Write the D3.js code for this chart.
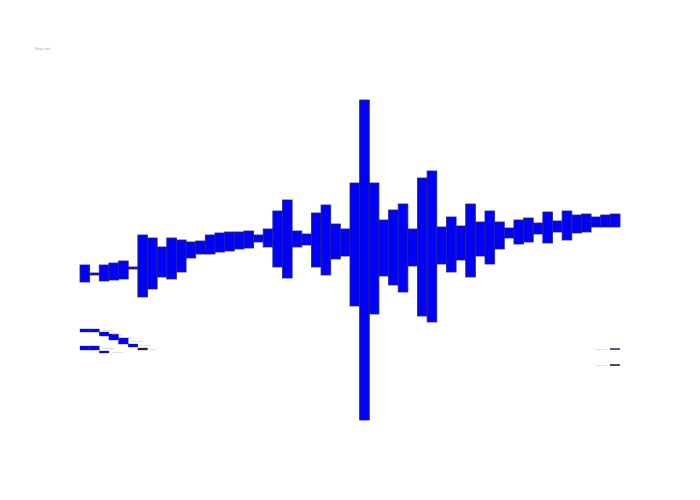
<!DOCTYPE html>
<html>
<head>
<meta charset="utf-8">
<script src="https://cdn.jsdelivr.net/npm/d3@7"></script>
<style>
  html, body { margin: 0; padding: 0; background: #fff; }
  text { font-family: "Open Sans", "DejaVu Sans", sans-serif; }
</style>
</head>
<body>
<div id="chart"></div>
<script>
// bar ranges (high / low) per slot
const highs = [-0.5, -1.3, -0.5, -0.3, -0.1, -0.7, 2.5, 2.2, 1.3, 2.2,
  2.0, 1.8, 1.9, 2.5, 2.7, 2.8, 2.8, 2.9, 2.5, 3.1,
  4.9, 6.0, 2.9, 2.6, 4.7, 5.5, 3.6, 3.1, 7.7, 16.0,
  7.7, 4.0, 5.0, 5.6, 3.1, 8.2, 8.9, 3.3, 4.3, 3.4,
  5.6, 3.8, 4.9, 3.8, 3.2, 4.0, 4.2, 3.7, 4.8, 3.9,
  4.9, 4.5, 4.6, 4.3, 4.5, 4.6];
const lows = [-2.2, -1.5, -2.1, -2.0, -1.9, -0.9, -3.7, -2.9, -1.7, -1.9,
  -1.2, 0.2, 0.6, 0.6, 0.8, 0.9, 1.1, 1.2, 1.8, 1.3,
  -0.7, -1.8, 1.3, 1.5, -0.7, -1.5, 0.1, 0.4, -4.6, -16.0,
  -5.4, -1.6, -2.5, -3.2, -0.6, -5.6, -6.2, -0.4, -1.2, 0.0,
  -1.7, 0.4, -0.4, 1.1, 2.2, 1.6, 1.8, 2.6, 1.7, 2.8,
  2.0, 2.7, 2.8, 3.3, 3.3, 3.3];
const slots = d3.range(highs.length);

const titleText = "Range chart";
// small legend entries (bottom left): [high, low] in legend units
const legendHigh = [0, 0, -0.3, -0.5, -0.9, -1.5, -1.7, -1.7, -2.2, -1.9];
const legendLow  = [-0.3, -0.3, -0.7, -1.1, -1.5, -1.8, -2.1, -2.1, -2.4, -2.1];
const legendSlot = [0, 1, 2, 3, 4, 5, 0, 1, 2, 6];
const legendLabels = ["increasing", "", "step one", "step two", "step three", "step four", "decreasing", "", "total value", "other"];
const sideLabels = ["series high", "series low"];

const width = 700, height = 500;

const svg = d3.select("#chart").append("svg")
  .attr("width", width)
  .attr("height", height);

const x = d3.scaleBand()
  .domain(slots)
  .range([80, 620])
  .padding(0);

const y = d3.scaleLinear()
  .domain([-16, 16])
  .range([420, 100]);

// bars
svg.append("g")
  .selectAll("rect")
  .data(slots)
  .join("rect")
  .attr("x", i => x(i))
  .attr("y", i => y(highs[i]))
  .attr("width", x.bandwidth())
  .attr("height", i => Math.max(1.5, y(lows[i]) - y(highs[i])))
  .attr("fill", "#0000ff")
  .attr("stroke", "#2b2b55")
  .attr("stroke-opacity", 0.9)
  .attr("stroke-width", 0.9);

// title
svg.append("text")
  .attr("x", 35)
  .attr("y", 50)
  .attr("font-size", 2.8)
  .attr("fill", "#999")
  .text(titleText);

// mini legend, bottom left
const ly = d3.scaleLinear().domain([0, -2.4]).range([329, 353]);
const lg = svg.append("g");
lg.selectAll("rect")
  .data(legendHigh.map((h, i) => i))
  .join("rect")
  .attr("x", i => x(legendSlot[i]))
  .attr("y", i => ly(legendHigh[i]))
  .attr("width", x.bandwidth())
  .attr("height", i => Math.max(1.5, ly(legendLow[i]) - ly(legendHigh[i])))
  .attr("fill", (d, i) => i === 9 ? "#223" : "#0000ff")
  .attr("stroke", "#2b2b66")
  .attr("stroke-opacity", 0.6)
  .attr("stroke-width", 0.6);
lg.selectAll("text")
  .data(legendLabels)
  .join("text")
  .attr("x", (d, i) => x(legendSlot[i]) + x.bandwidth() + 3 + (d === "increasing" || d === "decreasing" ? x.bandwidth() : 0))
  .attr("y", (d, i) => ly((legendHigh[i] + legendLow[i]) / 2) + 0.8)
  .attr("font-size", 2.4)
  .attr("fill", "#aab")
  .text(d => d);

// side legend, bottom right
const sg = svg.append("g");
sg.selectAll("line")
  .data(sideLabels)
  .join("line")
  .attr("x1", 610).attr("x2", 620)
  .attr("y1", (d, i) => 349 + i * 16)
  .attr("y2", (d, i) => 349 + i * 16)
  .attr("stroke", (d, i) => i === 0 ? "#33337a" : "#222233")
  .attr("stroke-width", 1.6);
sg.selectAll("text")
  .data(sideLabels)
  .join("text")
  .attr("x", 607)
  .attr("y", (d, i) => 350 + i * 16)
  .attr("text-anchor", "end")
  .attr("font-size", 2.4)
  .attr("fill", "#aab")
  .text(d => d);
</script>
</body>
</html>
